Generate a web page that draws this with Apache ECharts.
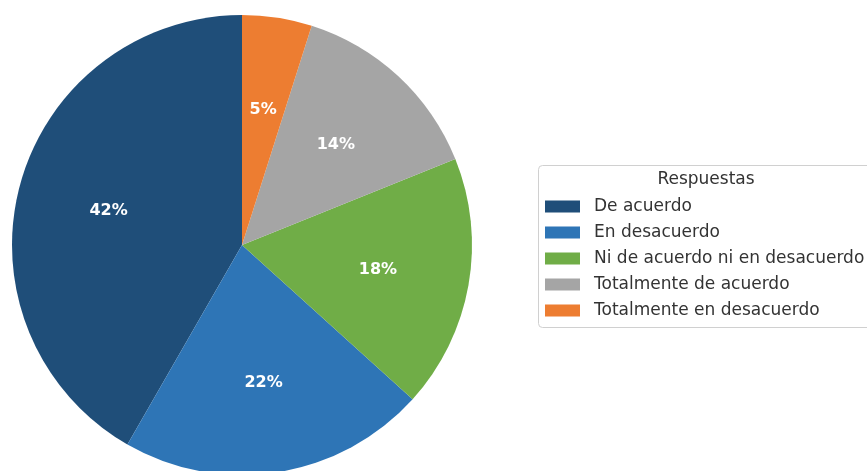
<!DOCTYPE html>
<html>
<head>
<meta charset="utf-8">
<script src="https://cdn.jsdelivr.net/npm/echarts@6/dist/echarts.min.js"></script>
<style>
  html, body { margin: 0; padding: 0; background: #fff; }
  #chart { width: 867px; height: 471px; }
</style>
</head>
<body>
<div id="chart"></div>
<script>
// Survey answers and their share (%)
const categories = [
  'De acuerdo',
  'En desacuerdo',
  'Ni de acuerdo ni en desacuerdo',
  'Totalmente de acuerdo',
  'Totalmente en desacuerdo'
];
const shares = [41.7, 21.6, 17.8, 14.0, 4.9];
const colors = ['#1f4e79', '#2e75b6', '#70ad47', '#a5a5a5', '#ed7d31'];
const legendTitle = 'Respuestas';

const cx = 242, cy = 245, R = 230;
const total = shares.reduce((a, b) => a + b, 0);

const chart = echarts.init(document.getElementById('chart'), null, { renderer: 'canvas' });
const font = '"DejaVu Sans", sans-serif';

chart.setOption({
  animation: false,
  color: colors,
  legend: {
    orient: 'vertical',
    left: 540,
    top: 193,
    itemWidth: 35,
    itemHeight: 12,
    itemGap: 9,
    icon: 'rect',
    textStyle: { fontFamily: font, fontSize: 17, color: '#333', lineHeight: 17, padding: [0, 0, 0, 9] },
    data: categories
  },
  graphic: [
    {
      type: 'rect',
      shape: { x: 538.5, y: 165.5, width: 336, height: 162, r: 4 },
      style: { fill: '#fff', stroke: '#d0d0d0', lineWidth: 1 },
      z: -1
    },
    {
      type: 'text',
      x: 706, y: 180,
      style: {
        text: legendTitle, fontFamily: font, fontSize: 17, fill: '#333',
        align: 'center', verticalAlign: 'middle'
      }
    }
  ],
  series: [{
    type: 'pie',
    center: [cx, cy],
    radius: [0, R],
    startAngle: 90,
    clockwise: false,
    avoidLabelOverlap: false,
    emphasis: { disabled: true },
    label: {
      show: true,
      position: 'inside',
      color: '#fff',
      fontFamily: font,
      fontWeight: 'bold',
      fontSize: 16,
      formatter: p => Math.round(p.value / total * 100) + '%'
    },
    // push labels out from half radius to about 0.6 of the radius
    labelLayout: function (p) {
      const lx = p.labelRect.x + p.labelRect.width / 2;
      const ly = p.labelRect.y + p.labelRect.height / 2;
      return { dx: (lx - cx) * 0.17, dy: (ly - cy) * 0.17 + 1 };
    },
    labelLine: { show: false },
    data: categories.map((name, i) => ({ name, value: shares[i] }))
  }]
});
</script>
</body>
</html>
